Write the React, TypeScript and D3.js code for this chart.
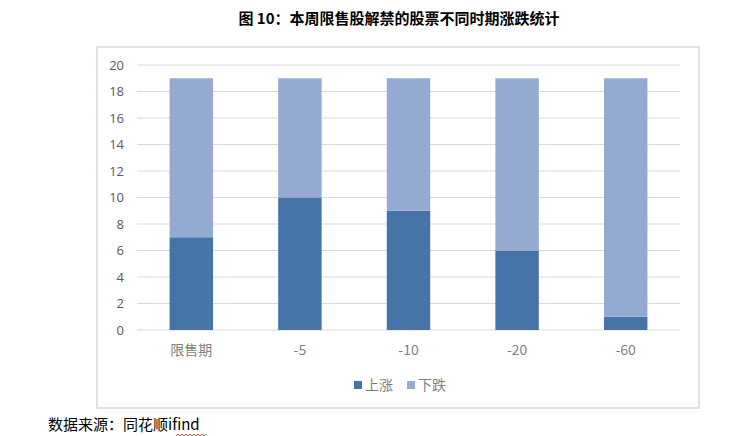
import React, { useEffect, useRef } from 'react';
import * as d3 from 'd3';

const categories = ['限售期', '-5', '-10', '-20', '-60'];
const upValues = [7, 10, 9, 6, 1];
const downValues = [12, 9, 10, 13, 18];
const seriesNames = ['上涨', '下跌'];
const yTicks = [0, 2, 4, 6, 8, 10, 12, 14, 16, 18, 20];

const colors = ['#4673A8', '#95AAD1'];
const cjk = '"Noto Sans CJK SC", "Noto Sans", sans-serif';

const App: React.FC = () => {
  const ref = useRef<SVGSVGElement>(null);

  useEffect(() => {
    if (!ref.current) return;
    const svg = d3.select(ref.current);
    svg.selectAll('*').remove();

    const margin = { top: 65, left: 137, right: 76, bottom: 106 };
    const width = 756 - margin.left - margin.right;
    const height = 436 - margin.top - margin.bottom;

    // title
    svg.append('text')
      .attr('x', 399)
      .attr('y', 24)
      .attr('text-anchor', 'middle')
      .attr('font-family', cjk)
      .attr('font-size', 15)
      .attr('font-weight', 'bold')
      .attr('fill', '#000')
      .text('图 10：本周限售股解禁的股票不同时期涨跌统计');

    // chart frame
    svg.append('rect')
      .attr('x', 97)
      .attr('y', 47)
      .attr('width', 602)
      .attr('height', 361)
      .attr('fill', '#fff')
      .attr('stroke', '#d9d9d9')
      .attr('stroke-width', 1.5);

    const g = svg.append('g').attr('transform', `translate(${margin.left},${margin.top})`);

    const x = d3.scaleBand<string>()
      .domain(categories)
      .range([0, width])
      .paddingInner(0.6)
      .paddingOuter(0.3);

    const y = d3.scaleLinear().domain([0, 20]).range([height, 0]);

    // gridlines
    g.selectAll('.grid')
      .data(yTicks)
      .enter()
      .append('line')
      .attr('x1', 0)
      .attr('x2', width)
      .attr('y1', d => y(d))
      .attr('y2', d => y(d))
      .attr('stroke', '#d9d9d9')
      .attr('stroke-width', 1);

    // y labels
    g.selectAll('.ylab')
      .data(yTicks)
      .enter()
      .append('text')
      .attr('x', -13)
      .attr('y', d => y(d))
      .attr('dy', '0.35em')
      .attr('text-anchor', 'end')
      .attr('font-family', '"Open Sans", sans-serif')
      .attr('font-size', 13)
      .attr('fill', '#595959')
      .text(d => d);

    // stacked bars
    const rows = categories.map((c, i) => ({ cat: c, up: upValues[i], down: downValues[i] }));
    const stack = d3.stack<{ cat: string; up: number; down: number }>().keys(['up', 'down']);
    const layers = stack(rows);

    layers.forEach((layer, li) => {
      g.selectAll(`.bar-${li}`)
        .data(layer)
        .enter()
        .append('rect')
        .attr('x', d => x(d.data.cat) as number)
        .attr('width', x.bandwidth())
        .attr('y', d => y(d[1]))
        .attr('height', d => y(d[0]) - y(d[1]))
        .attr('fill', colors[li]);
    });

    // x labels
    g.selectAll('.xlab')
      .data(categories)
      .enter()
      .append('text')
      .attr('x', d => (x(d) as number) + x.bandwidth() / 2)
      .attr('y', height + 25)
      .attr('text-anchor', 'middle')
      .attr('font-family', cjk)
      .attr('font-size', 14)
      .attr('fill', '#7f7f7f')
      .text(d => d);

    // legend
    const legend = svg.append('g').attr('transform', 'translate(354,385)');
    const offsets = [0, 53];
    seriesNames.forEach((name, i) => {
      legend.append('rect')
        .attr('x', offsets[i])
        .attr('y', -4)
        .attr('width', 8)
        .attr('height', 8)
        .attr('fill', colors[i]);
      legend.append('text')
        .attr('x', offsets[i] + 11)
        .attr('y', 0)
        .attr('dy', '0.36em')
        .attr('font-family', cjk)
        .attr('font-size', 14)
        .attr('fill', '#7f7f7f')
        .text(name);
    });

    // source note
    svg.append('text')
      .attr('x', 48)
      .attr('y', 430)
      .attr('font-family', cjk)
      .attr('font-size', 15)
      .attr('fill', '#000')
      .text('数据来源：同花顺ifind');

    // spell-check squiggle under "ifind"
    const squiggle = d3.range(0, 16).map(i => [176 + i * 2, i % 2 === 0 ? 436 : 434] as [number, number]);
    svg.append('path')
      .attr('d', d3.line()(squiggle))
      .attr('fill', 'none')
      .attr('stroke', '#e02020')
      .attr('stroke-width', 0.8);
  }, []);

  return (
    <svg
      ref={ref}
      width={756}
      height={436}
      style={{ position: 'absolute', left: 0, top: 0, background: '#fff' }}
    />
  );
};

export default App;
